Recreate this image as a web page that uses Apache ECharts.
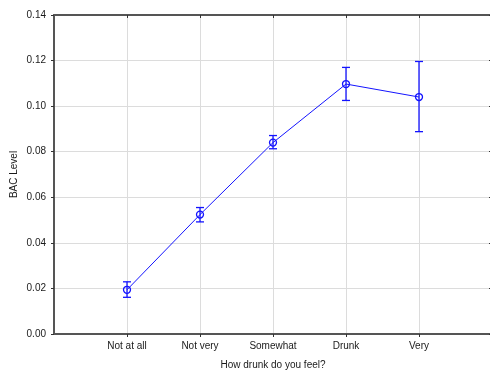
<!DOCTYPE html>
<html>
<head>
<meta charset="utf-8">
<script src="https://cdn.jsdelivr.net/npm/echarts@6/dist/echarts.min.js"></script>
<style>
  html, body { margin: 0; padding: 0; background: #fff; }
  #chart { width: 490px; height: 372px; }
</style>
</head>
<body>
<div id="chart"></div>
<script>
// Mean BAC by self-reported drunkenness, with error bars
const categories = ['Not at all', 'Not very', 'Somewhat', 'Drunk', 'Very'];
const means  = [0.0194, 0.0524, 0.0840, 0.1097, 0.1040];
const lowers = [0.0161, 0.0492, 0.0813, 0.1025, 0.0888];
const uppers = [0.0229, 0.0555, 0.0871, 0.1170, 0.1196];
const yTicks = [0.00, 0.02, 0.04, 0.06, 0.08, 0.10, 0.12, 0.14];

const BLUE = '#1414ff';
const AXIS = '#555555';
const TEXT = '#1a1a1a';
const FONT = 'Liberation Sans, Arial, sans-serif';

// categories sit at x = 1..5 on a 0..6 value scale
const catPos = categories.map((c, i) => i + 1);
const linePts = means.map((v, i) => [catPos[i], v]);
const errPts = lowers.map((lo, i) => [catPos[i], lo, uppers[i]]);

const chart = echarts.init(document.getElementById('chart'), null, { renderer: 'canvas' });

const xLabel = v => {
  const i = catPos.indexOf(v);
  return i >= 0 ? categories[i] : '';
};

chart.setOption({
  animation: false,
  grid: { left: 54, right: -2, top: 15, bottom: 38, outerBoundsMode: 'none', containLabel: false },
  xAxis: [{
    type: 'value', min: 0, max: 6, interval: 1,
    name: 'How drunk do you feel?', nameLocation: 'middle', nameGap: 26, nameMoveOverlap: false,
    nameTextStyle: { fontFamily: FONT, fontSize: 10, color: TEXT },
    axisLine: { onZero: false, lineStyle: { color: AXIS, width: 2 } },
    axisTick: { length: 3, lineStyle: { color: '#333' }, customValues: catPos },
    axisLabel: { fontFamily: FONT, fontSize: 10, color: TEXT, margin: 7, formatter: xLabel,
                 customValues: catPos },
    splitLine: { show: true, lineStyle: { color: '#dcdcdc', width: 1 } },
    position: 'bottom'
  }, {
    type: 'value', min: 0, max: 6, interval: 1, position: 'top',
    axisLine: { onZero: false, lineStyle: { color: AXIS, width: 2 } },
    axisTick: { inside: true, length: 3, lineStyle: { color: '#333' }, customValues: catPos },
    axisLabel: { show: false },
    splitLine: { show: false }
  }],
  yAxis: [{
    type: 'value', min: 0, max: 0.14, interval: 0.02,
    name: 'BAC Level', nameLocation: 'middle', nameGap: 34.5, nameMoveOverlap: false,
    nameTextStyle: { fontFamily: FONT, fontSize: 10, color: TEXT },
    axisLine: { show: true, onZero: false, lineStyle: { color: AXIS, width: 2 } },
    axisTick: { show: true, length: 3, lineStyle: { color: '#333' }, customValues: yTicks },
    axisLabel: { fontFamily: FONT, fontSize: 10, color: TEXT, margin: 8,
                 customValues: yTicks, formatter: v => v.toFixed(2) },
    splitLine: { show: true, lineStyle: { color: '#dcdcdc', width: 1 } }
  }, {
    type: 'value', min: 0, max: 0.14, interval: 0.02, position: 'right',
    axisLine: { show: true, onZero: false, lineStyle: { color: AXIS, width: 2 } },
    axisTick: { show: true, inside: true, length: 3, lineStyle: { color: '#333' } },
    axisLabel: { show: false },
    splitLine: { show: false }
  }],
  series: [{
    type: 'line',
    data: linePts,
    symbol: 'circle',
    symbolSize: 7,
    showSymbol: true,
    lineStyle: { color: BLUE, width: 1 },
    itemStyle: { color: 'rgba(255,255,255,0)', borderColor: BLUE, borderWidth: 1.3 },
    z: 3
  }, {
    type: 'custom',
    data: errPts,
    renderItem: (params, api) => {
      const x = api.value(0);
      const lo = api.coord([x, api.value(1)]);
      const hi = api.coord([x, api.value(2)]);
      const cap = 4;
      const style = { stroke: BLUE, lineWidth: 1.3, fill: null };
      return {
        type: 'group',
        children: [
          { type: 'line', shape: { x1: lo[0], y1: lo[1], x2: hi[0], y2: hi[1] }, style },
          { type: 'line', shape: { x1: lo[0] - cap, y1: lo[1], x2: lo[0] + cap, y2: lo[1] }, style },
          { type: 'line', shape: { x1: hi[0] - cap, y1: hi[1], x2: hi[0] + cap, y2: hi[1] }, style }
        ]
      };
    },
    z: 2
  }]
});
</script>
</body>
</html>
